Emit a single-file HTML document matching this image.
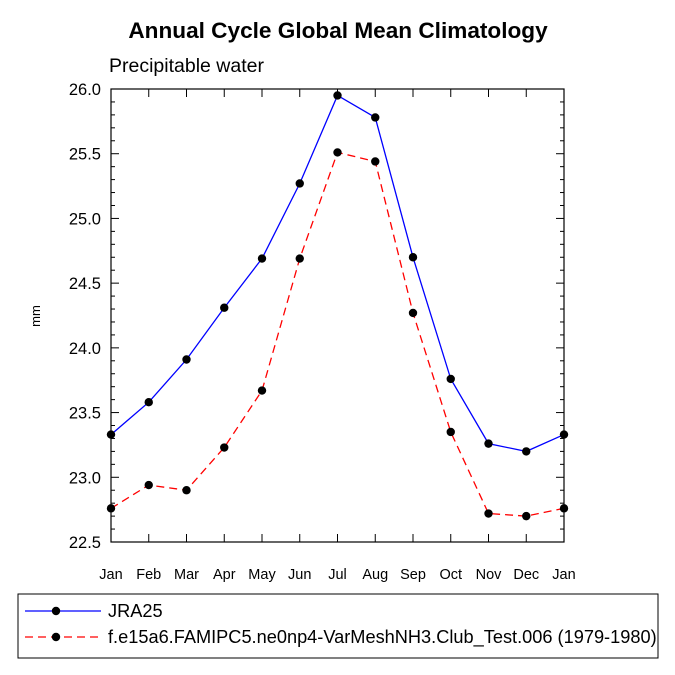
<!DOCTYPE html>
<html><head><meta charset="utf-8"><style>
body{margin:0;background:#fff;}
svg{display:block;font-family:"Liberation Sans",sans-serif;}
</style></head><body>
<svg id="chart" width="675" height="675" viewBox="0 0 675 675"></svg>
<script>
const months=["Jan","Feb","Mar","Apr","May","Jun","Jul","Aug","Sep","Oct","Nov","Dec","Jan"];
const jra=[23.33,23.58,23.91,24.31,24.69,25.27,25.95,25.78,24.70,23.76,23.26,23.20,23.33];
const test=[22.76,22.94,22.90,23.23,23.67,24.69,25.51,25.44,24.27,23.35,22.72,22.70,22.76];
const yTicks=["22.5","23.0","23.5","24.0","24.5","25.0","25.5","26.0"];
const X0=111,X1=564,Y0=542,Y1=89,YMIN=22.5,YMAX=26.0;
const svg=document.getElementById('chart');
const NS="http://www.w3.org/2000/svg";
const xs=i=>X0+(X1-X0)*i/(months.length-1);
const ys=v=>Y0-(v-YMIN)/(YMAX-YMIN)*(Y0-Y1);
function mk(t,a,p){const e=document.createElementNS(NS,t);for(const k in a)e.setAttribute(k,a[k]);(p||svg).appendChild(e);return e;}
function txt(s,x,y,a){const e=mk('text',Object.assign({x:x,y:y},a));e.textContent=s;return e;}
let t;
t=txt("Annual Cycle Global Mean Climatology",338,38,{"text-anchor":"middle","font-size":"22.6","font-weight":"bold"});

t=txt("Precipitable water",109,72,{"font-size":"19.5"});

t=txt("mm",40,316,{"font-size":"13","text-anchor":"middle",transform:"rotate(-90 40 316)"});

const frame=mk('rect',{x:X0,y:Y1,width:X1-X0,height:Y0-Y1,fill:"none",stroke:"#000","stroke-width":1.2});

const tk=mk('g',{stroke:"#000","stroke-width":1});

for(let v=0;v<=35;v++){const val=YMIN+v*0.1;const y=ys(val);const L=(v%5===0)?8:4;
 mk('line',{x1:X0,y1:y,x2:X0+L,y2:y},tk);mk('line',{x1:X1,y1:y,x2:X1-L,y2:y},tk);}
yTicks.forEach(s=>{const e=txt(s,X0-10,ys(parseFloat(s))+6,{"font-size":"16.5","text-anchor":"end"});
 });
months.forEach((m,i)=>{const x=xs(i);mk('line',{x1:x,y1:Y0,x2:x,y2:Y0-8},tk);mk('line',{x1:x,y1:Y1,x2:x,y2:Y1+8},tk);
 const e=txt(m,x,Y0+37,{"font-size":"14.5","text-anchor":"middle"});
 });
function series(data,color,dash,name){
 const g=mk('g',{});
 const p=mk('polyline',{points:data.map((v,i)=>xs(i)+","+ys(v)).join(" "),fill:"none",stroke:color,"stroke-width":1.3,"stroke-dasharray":dash},g);
 data.forEach((v,i)=>{const c=mk('circle',{cx:xs(i),cy:ys(v),r:4.2,fill:"#000"},g);
  });
}
series(jra,"#0000ff","none","series-jra25");
series(test,"#ff0000","8,5","series-test");
const lg=mk('g',{});
mk('rect',{x:18,y:594,width:640,height:64,fill:"#fff",stroke:"#000","stroke-width":1},lg);
mk('line',{x1:25,y1:611,x2:101,y2:611,stroke:"#0000ff","stroke-width":1.3},lg);
mk('circle',{cx:56,cy:611,r:4.2,fill:"#000"},lg);
t=txt("JRA25",108,617,{"font-size":"18.2"});lg.appendChild(t);

mk('line',{x1:25,y1:637,x2:101,y2:637,stroke:"#ff0000","stroke-width":1.3,"stroke-dasharray":"8,5"},lg);
mk('circle',{cx:56,cy:637,r:4.2,fill:"#000"},lg);
t=txt("f.e15a6.FAMIPC5.ne0np4-VarMeshNH3.Club_Test.006 (1979-1980)",108,643,{"font-size":"18.2"});lg.appendChild(t);

</script>
</body></html>
